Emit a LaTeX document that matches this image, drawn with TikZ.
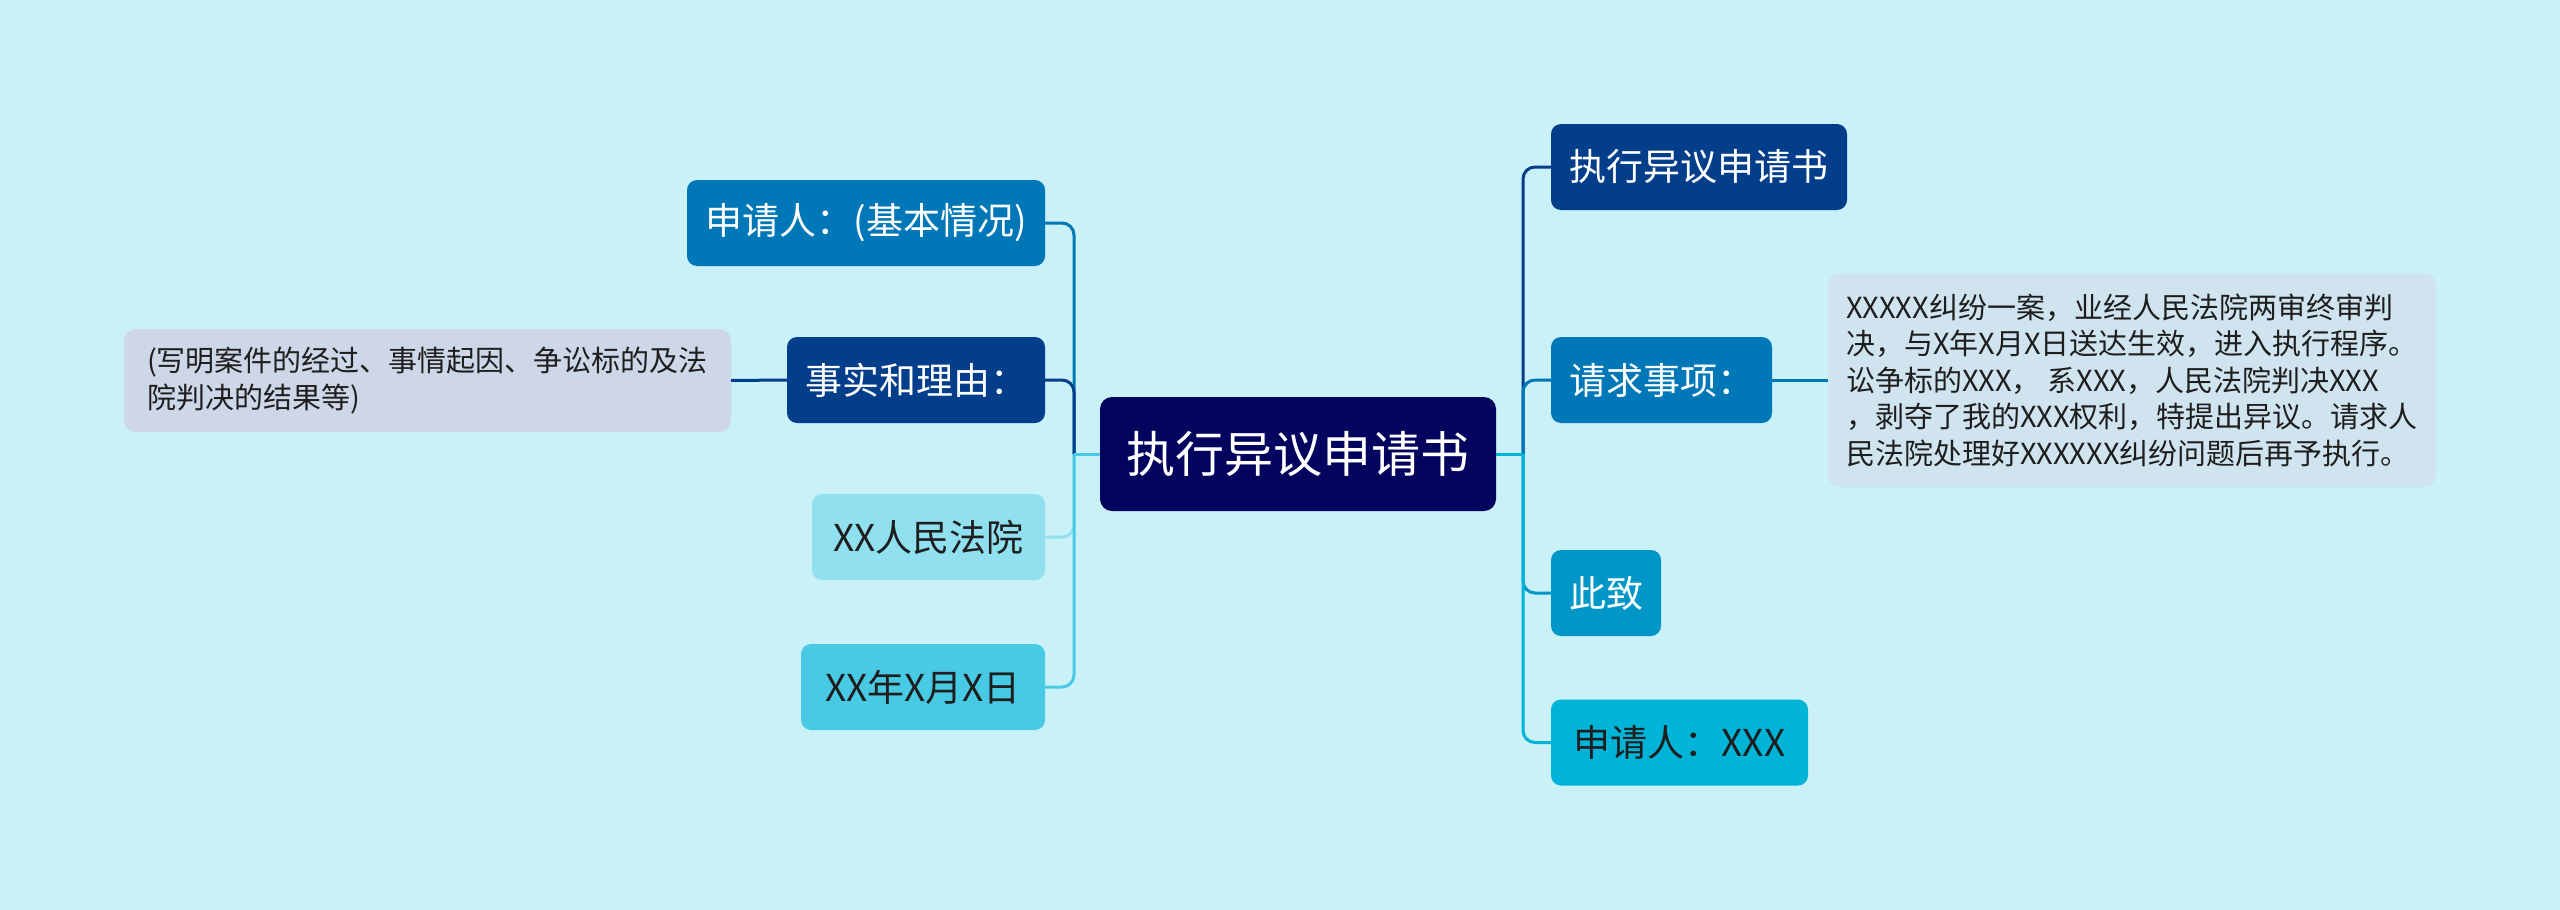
\documentclass[tikz,border=0pt]{standalone}
\usepackage{fontspec}
\setmainfont{Noto Sans CJK SC}
\definecolor{bg}{HTML}{CAF0F8}
\definecolor{c1}{HTML}{03045E}
\definecolor{c2}{HTML}{023E8A}
\definecolor{c3}{HTML}{0077B6}
\definecolor{c4}{HTML}{0096C7}
\definecolor{c5}{HTML}{00B4D8}
\definecolor{c6}{HTML}{48CAE4}
\definecolor{c7}{HTML}{90E0EF}
\definecolor{dl}{HTML}{CDD7E7}
\definecolor{dr}{HTML}{D0E4EF}
\definecolor{ink}{HTML}{1E1E1E}
\tikzset{
  box/.style={rounded corners=10pt, inner sep=0pt, minimum height=86pt,
    font=\fontsize{37}{44}\selectfont},
  detail/.style={rounded corners=12pt, inner sep=0pt, align=left, text=ink,
    font=\fontsize{29}{36.5}\selectfont},
  link/.style={line width=3pt, rounded corners=12pt}
}
\begin{document}
\begin{tikzpicture}[x=1pt,y=-1pt]
\useasboundingbox (0,0) rectangle (2560,910);
\fill[bg] (0,0) rectangle (2560,910);

% root
\node[rounded corners=12pt, inner sep=0pt, fill=c1, text=white, minimum width=396pt, minimum height=114pt,
  font=\fontsize{49}{56}\selectfont] (root) at (1298,454) {执行异议申请书};

% right children
\node[box, fill=c2, text=white, minimum width=296pt] (r1) at (1699,167) {执行异议申请书};
\node[box, fill=c3, text=white, minimum width=221pt] (r2) at (1661.5,380) {请求事项：};
\node[box, fill=c4, text=white, minimum width=110pt] (r3) at (1606,593) {此致};
\node[box, fill=c5, text=ink, minimum width=257pt] (r4) at (1679.5,742.5) {申请人：XXX};
\node[detail, fill=dr, minimum width=608pt, minimum height=214pt] (rd) at (2132,380)
 {XXXXX纠纷一案，业经人民法院两审终审判\\
  决，与X年X月X日送达生效，进入执行程序。\\
  讼争标的XXX， 系XXX，人民法院判决XXX\\
  ，剥夺了我的XXX权利，特提出异议。请求人\\
  民法院处理好XXXXXX纠纷问题后再予执行。};

% left children
\node[box, fill=c3, text=white, minimum width=358pt] (l1) at (866,223) {申请人：(基本情况)};
\node[box, fill=c2, text=white, minimum width=258pt] (l2) at (916,380) {事实和理由：};
\node[box, fill=c7, text=ink, minimum width=233pt] (l3) at (928.5,537) {XX人民法院};
\node[box, fill=c6, text=ink, minimum width=244pt] (l4) at (923,687) {XX年X月X日};
\node[detail, fill=dl, minimum width=607pt, minimum height=103pt] (ld) at (427.5,380.5)
 {(写明案件的经过、事情起因、争讼标的及法\\
  院判决的结果等)};

% trunks
\coordinate (LT) at (1074,454);
\coordinate (RT) at (1523,454);

\draw[link, c3] (LT) |- (l1.east);
\draw[link, c2] (LT) |- (l2.east);
\draw[link, c7] (LT) |- (l3.east);
\draw[link, c6] (LT) |- (l4.east);
\draw[line width=3pt, c6] (root.west) -- (LT);

\draw[link, c2] (RT) |- (r1.west);
\draw[link, c3] (RT) |- (r2.west);
\draw[link, c4] (RT) |- (r3.west);
\draw[link, c5] (RT) |- (r4.west);
\draw[line width=3pt, c5] (root.east) -- (RT);

\draw[line width=3pt, c2] (l2.west) -- (ld.east);
\draw[line width=3pt, c3] (r2.east) -- (rd.west);
\end{tikzpicture}
\end{document}
